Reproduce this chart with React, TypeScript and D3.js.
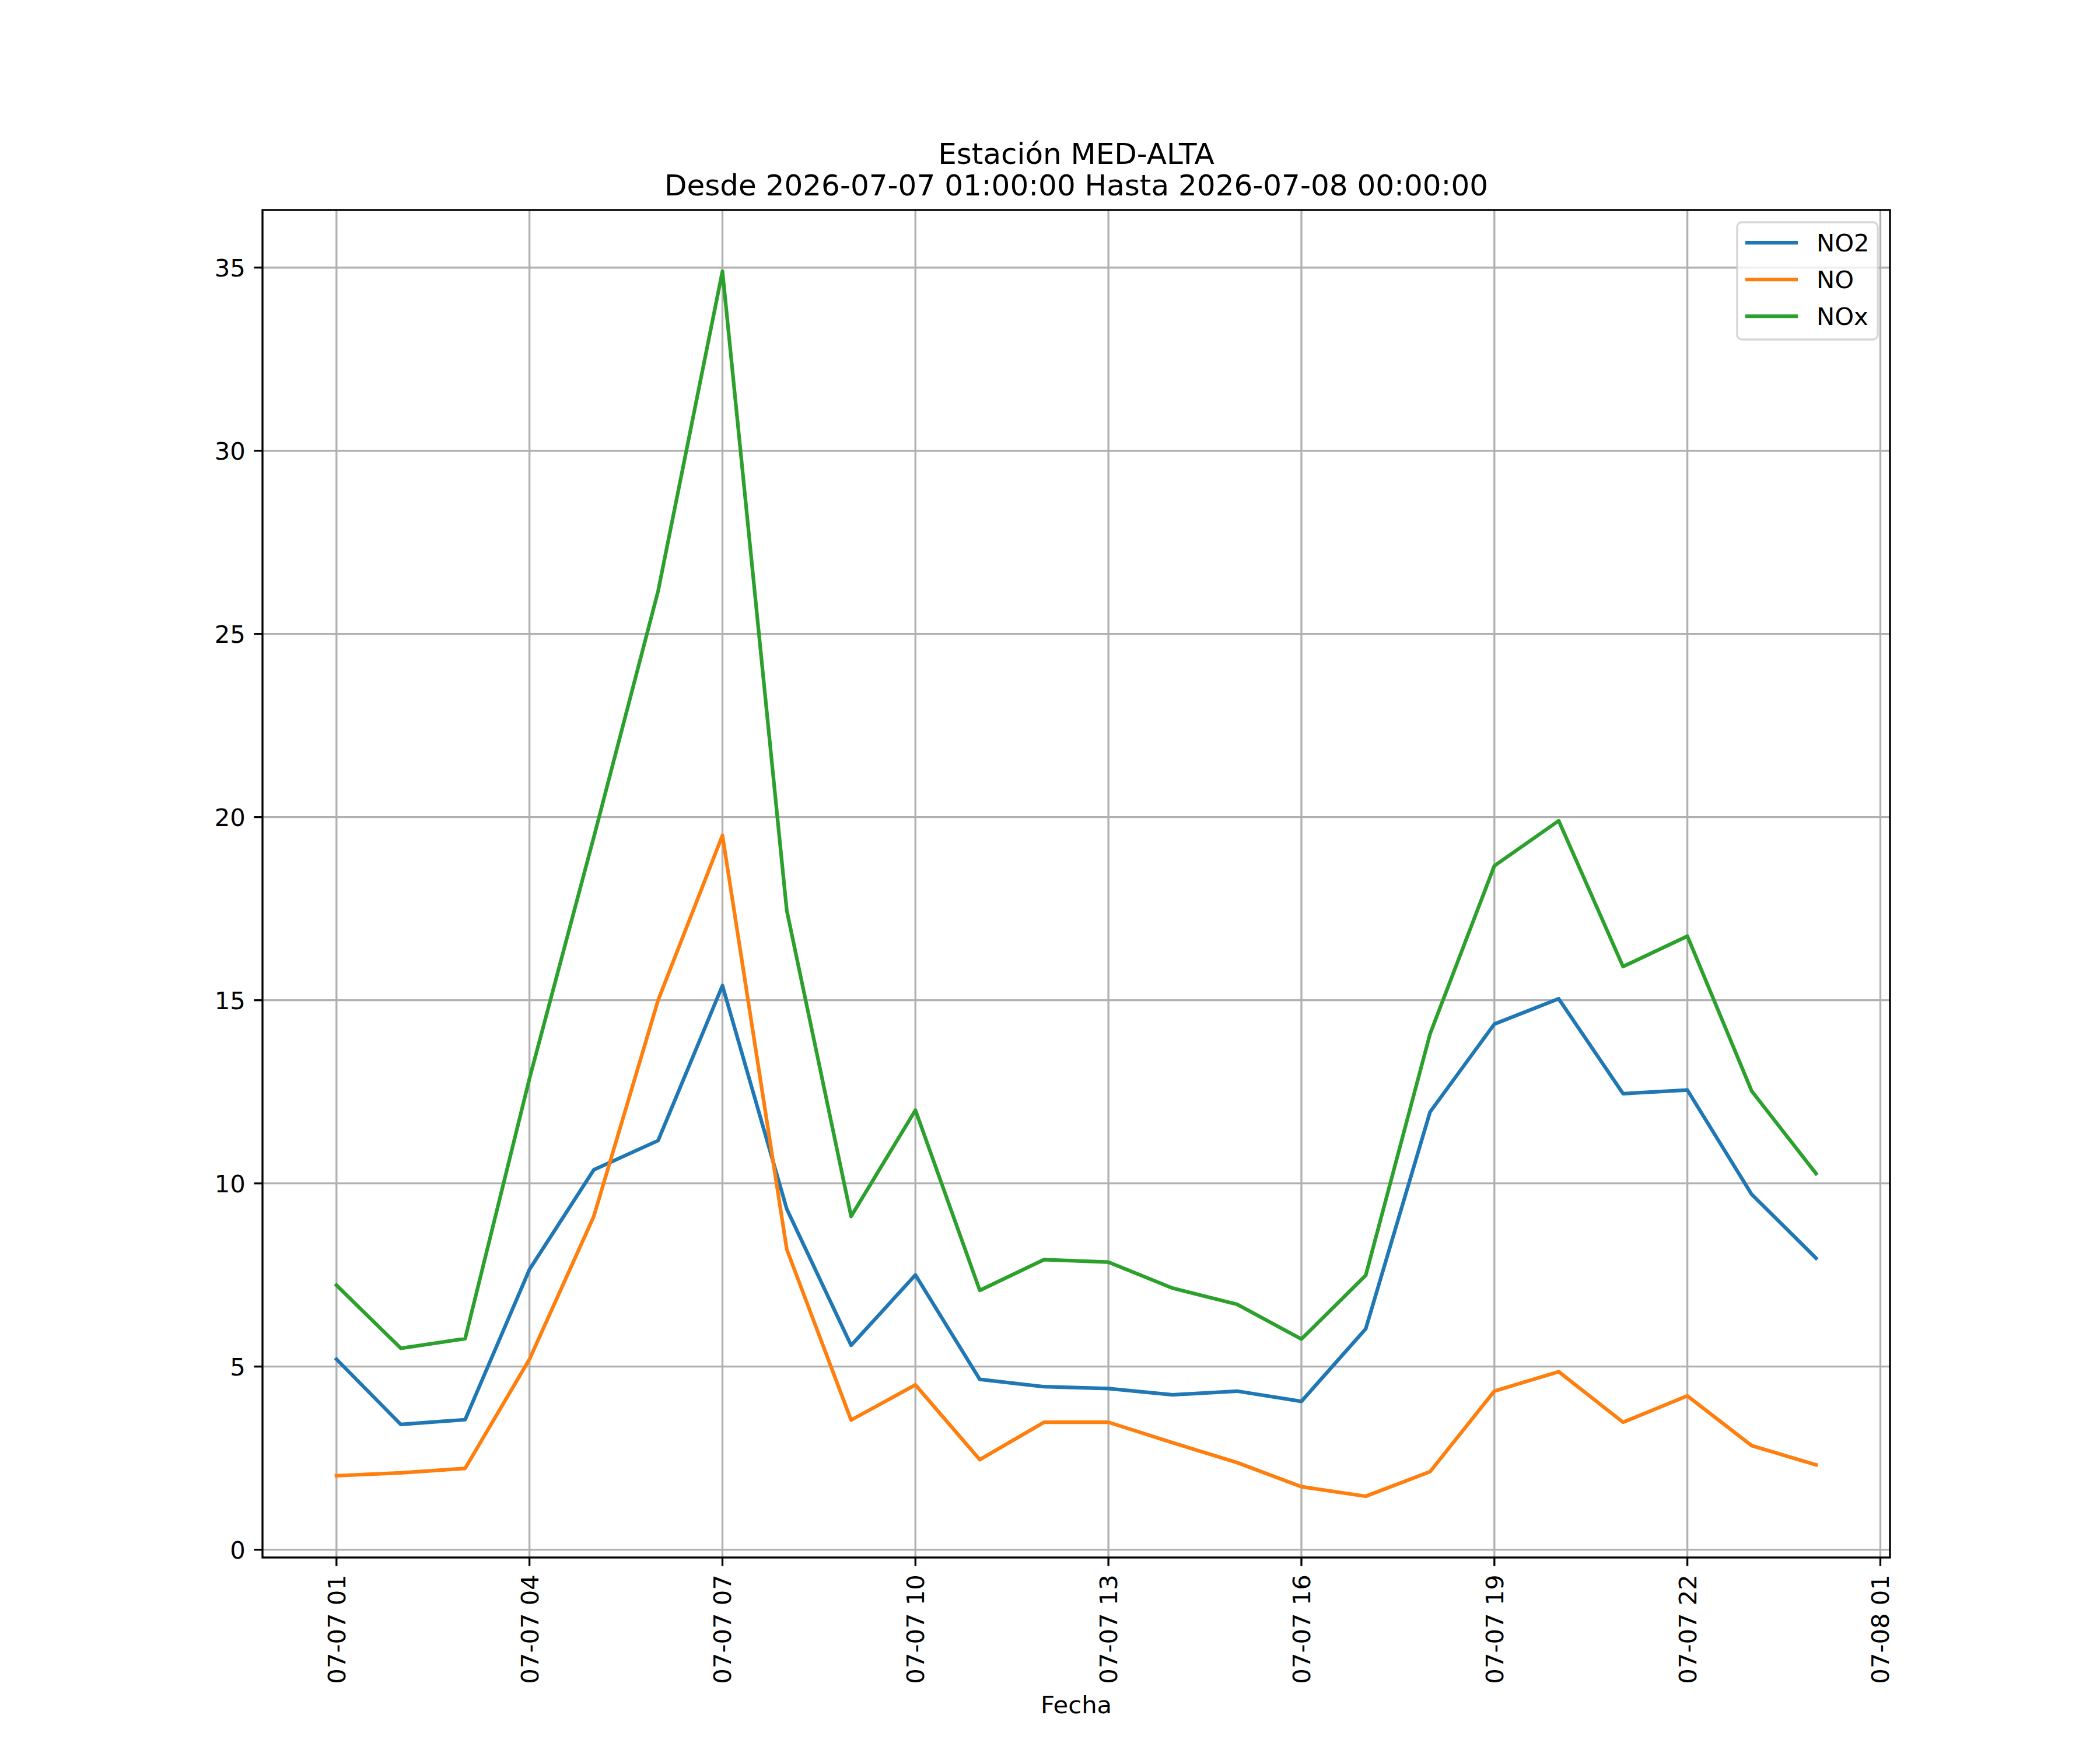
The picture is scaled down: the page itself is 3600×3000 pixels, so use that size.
import { useMemo } from 'react';
import * as d3 from 'd3';

const timestamps = [
  '2026-07-07 01:00', '2026-07-07 02:00', '2026-07-07 03:00', '2026-07-07 04:00',
  '2026-07-07 05:00', '2026-07-07 06:00', '2026-07-07 07:00', '2026-07-07 08:00',
  '2026-07-07 09:00', '2026-07-07 10:00', '2026-07-07 11:00', '2026-07-07 12:00',
  '2026-07-07 13:00', '2026-07-07 14:00', '2026-07-07 15:00', '2026-07-07 16:00',
  '2026-07-07 17:00', '2026-07-07 18:00', '2026-07-07 19:00', '2026-07-07 20:00',
  '2026-07-07 21:00', '2026-07-07 22:00', '2026-07-07 23:00', '2026-07-08 00:00',
];

const no2 = [
  5.2, 3.42, 3.55, 7.65, 10.37, 11.17, 15.4, 9.3, 5.58, 7.5, 4.65, 4.45,
  4.4, 4.23, 4.33, 4.05, 6.03, 11.95, 14.35, 15.04, 12.45, 12.55, 9.7, 7.96,
];
const no = [
  2.02, 2.1, 2.22, 5.2, 9.1, 15.0, 19.5, 8.2, 3.54, 4.5, 2.46, 3.48,
  3.48, 2.92, 2.38, 1.72, 1.46, 2.13, 4.33, 4.86, 3.48, 4.2, 2.84, 2.32,
];
const nox = [
  7.22, 5.5, 5.76, 12.86, 19.45, 26.17, 34.9, 17.45, 9.1, 12.0, 7.08, 7.92,
  7.85, 7.14, 6.7, 5.75, 7.49, 14.08, 18.67, 19.9, 15.92, 16.75, 12.52, 10.27,
];

const seriesNames = ['NO2', 'NO', 'NOx'];
const seriesColors = ['#1f77b4', '#ff7f0e', '#2ca02c'];

const title = ['Estación MED-ALTA', 'Desde 2026-07-07 01:00:00 Hasta 2026-07-08 00:00:00'];
const xLabel = 'Fecha';

const W = 3600;
const H = 3000;
const left = 450;
const right = 3240;
const top = 360;
const bottom = 2670;
const FONT = '"DejaVu Sans", sans-serif';
const tickLen = 14.6;
const tickPad = 14.6;
const fs = 41.7;

const App = () => {
  const parse = d3.timeParse('%Y-%m-%d %H:%M');
  const dates = useMemo(() => timestamps.map((t) => parse(t) as Date), []);
  const allSeries = [no2, no, nox];

  // 5% margins on both axes, like matplotlib's autoscale
  const xScale = useMemo(() => {
    const [a, b] = d3.extent(dates) as [Date, Date];
    const span = +b - +a;
    return d3
      .scaleTime()
      .domain([new Date(+a - span * 0.05), new Date(+b + span * 0.05)])
      .range([left, right]);
  }, [dates]);

  const yScale = useMemo(() => {
    const vals = allSeries.flat();
    const [lo, hi] = d3.extent(vals) as [number, number];
    const pad = (hi - lo) * 0.05;
    return d3.scaleLinear().domain([lo - pad, hi + pad]).range([bottom, top]);
  }, []);

  const xTicks = d3.timeHour.range(dates[0], d3.timeHour.offset(dates[dates.length - 1], 2), 3);
  const fmt = d3.timeFormat('%m-%d %H');
  const yTicks = yScale.ticks(8);

  const lineGen = (vals: number[]) =>
    d3
      .line<number>()
      .x((_, i) => xScale(dates[i]))
      .y((d) => yScale(d))(vals) || undefined;

  const legX = 2978;
  const legY = 381;
  const rowH = 63;

  return (
    <svg
      width={W}
      height={H}
      style={{ position: 'absolute', left: 0, top: 0, background: '#fff' }}
      fontFamily={FONT}
    >
      <rect width={W} height={H} fill="#fff" />

      {/* grid */}
      {xTicks.map((t) => (
        <line key={'gx' + +t} x1={xScale(t)} x2={xScale(t)} y1={top} y2={bottom} stroke="#b0b0b0" strokeWidth={3.33} />
      ))}
      {yTicks.map((v) => (
        <line key={'gy' + v} x1={left} x2={right} y1={yScale(v)} y2={yScale(v)} stroke="#b0b0b0" strokeWidth={3.33} />
      ))}

      {/* series */}
      {allSeries.map((vals, i) => (
        <path
          key={seriesNames[i]}
          d={lineGen(vals)}
          fill="none"
          stroke={seriesColors[i]}
          strokeWidth={6.25}
          strokeLinejoin="round"
          strokeLinecap="square"
        />
      ))}

      {/* frame */}
      <rect x={left} y={top} width={right - left} height={bottom - top} fill="none" stroke="#000" strokeWidth={3.33} />

      {/* x ticks */}
      {xTicks.map((t) => (
        <g key={'xt' + +t} transform={`translate(${xScale(t)}, ${bottom})`}>
          <line y2={tickLen} stroke="#000" strokeWidth={3.33} />
          <text
            transform={`translate(0, ${tickLen + tickPad}) rotate(-90)`}
            textAnchor="end"
            dy="0.36em"
            fontSize={fs}
          >
            {fmt(t)}
          </text>
        </g>
      ))}

      {/* y ticks */}
      {yTicks.map((v) => (
        <g key={'yt' + v} transform={`translate(${left}, ${yScale(v)})`}>
          <line x2={-tickLen} stroke="#000" strokeWidth={3.33} />
          <text x={-tickLen - tickPad} textAnchor="end" dy="0.36em" fontSize={fs}>
            {v}
          </text>
        </g>
      ))}

      {/* title */}
      <text x={(left + right) / 2} y={281} textAnchor="middle" fontSize={50}>
        {title[0]}
      </text>
      <text x={(left + right) / 2} y={335} textAnchor="middle" fontSize={50}>
        {title[1]}
      </text>

      {/* x label */}
      <text x={(left + right) / 2} y={2937} textAnchor="middle" fontSize={fs}>
        {xLabel}
      </text>

      {/* legend */}
      <rect x={legX} y={legY} width={241} height={201} rx={8} fill="#fff" fillOpacity={0.8} stroke="#cccccc" strokeOpacity={0.8} strokeWidth={3.33} />
      {seriesNames.map((name, i) => (
        <g key={'lg' + name} transform={`translate(${legX}, ${legY + 35 + i * rowH})`}>
          <line x1={14} x2={104} stroke={seriesColors[i]} strokeWidth={6.25} />
          <text x={136} dy="0.36em" fontSize={fs}>
            {name}
          </text>
        </g>
      ))}
    </svg>
  );
};

export default App;
